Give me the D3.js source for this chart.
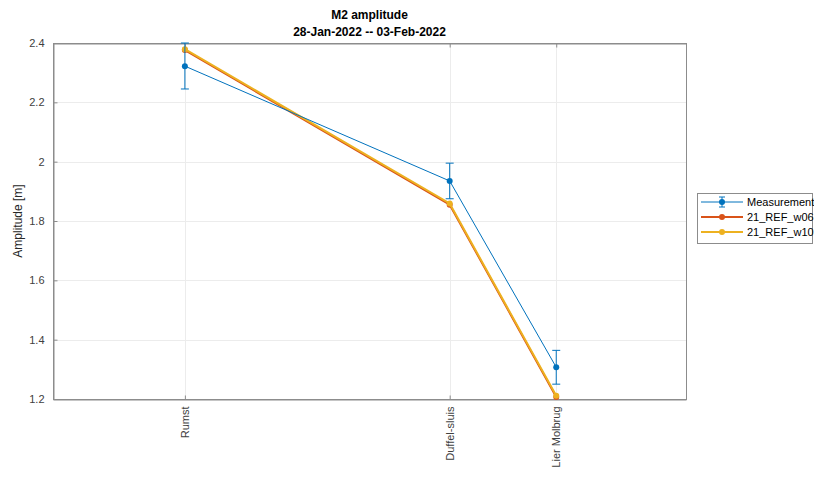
<!DOCTYPE html>
<html>
<head>
<meta charset="utf-8">
<script src="https://cdn.jsdelivr.net/npm/d3@7"></script>
<style>
  body { margin: 0; background: #fff; }
  svg { display: block; font-family: "Liberation Sans", Arial, sans-serif; }
</style>
</head>
<body>
<svg id="chart" width="814" height="479"></svg>
<script>
// Stations along the river and their position along the x axis (km)
const stations = ["Rumst", "Duffel-sluis", "Lier Molbrug"];
const stationKm = [6.25, 18.8, 23.85];
const xDomain = [0, 30];

// M2 amplitude [m]
const measured = [2.322, 1.935, 1.307];
const measuredLow = [2.245, 1.875, 1.25];
const measuredHigh = [2.40, 1.995, 1.364];
const refW06 = [2.376, 1.855, 1.207];
const refW10 = [2.379, 1.859, 1.211];

const yTicks = [1.2, 1.4, 1.6, 1.8, 2.0, 2.2, 2.4];
const seriesNames = ["Measurement", "21_REF_w06", "21_REF_w10"];
const seriesColors = ["#0072BD", "#D95319", "#EDB120"];

const svg = d3.select("#chart");
const m = { left: 53, right: 686, top: 43, bottom: 399 };

const x = d3.scaleLinear().domain(xDomain).range([m.left, m.right]);
const y = d3.scaleLinear().domain([1.2, 2.4]).range([m.bottom, m.top]);

// grid
const grid = svg.append("g").attr("stroke", "#ececec").attr("stroke-width", 1);
yTicks.forEach(t => grid.append("line")
  .attr("x1", m.left).attr("x2", m.right)
  .attr("y1", Math.round(y(t)) + 0.5).attr("y2", Math.round(y(t)) + 0.5));
stationKm.forEach(k => grid.append("line")
  .attr("y1", m.top).attr("y2", m.bottom)
  .attr("x1", Math.round(x(k)) + 0.5).attr("x2", Math.round(x(k)) + 0.5));

// axes
const axisColor = "#8c8c8c";
const yAxis = d3.axisLeft(y).tickValues(yTicks).tickSizeInner(-4).tickSizeOuter(0).tickPadding(9)
  .tickFormat(d => d3.format("")(+d.toFixed(1)));
const gy = svg.append("g").attr("transform", `translate(${m.left + 0.5},0)`).call(yAxis);
gy.selectAll("text").attr("font-size", 11).attr("fill", "#404040");

const xAxis = d3.axisBottom(x).tickValues(stationKm).tickSizeInner(-4).tickSizeOuter(0).tickPadding(6)
  .tickFormat((d, i) => stations[i]);
const gx = svg.append("g").attr("transform", `translate(0,${m.bottom + 0.5})`).call(xAxis);
gx.selectAll("text").attr("font-size", 11).attr("fill", "#404040")
  .attr("transform", "rotate(-90)").attr("text-anchor", "end")
  .attr("dy", "0.32em").attr("x", -7).attr("y", 0);

// top ticks
const xTop = d3.axisTop(x).tickValues(stationKm).tickSizeInner(-4).tickSizeOuter(0).tickFormat("");
const gt = svg.append("g").attr("transform", `translate(0,${m.top + 0.5})`).call(xTop);
[gx, gy, gt].forEach(g => g.selectAll("path,line").attr("stroke", axisColor));

// box
svg.append("rect").attr("x", m.left + 0.5).attr("y", m.top + 0.5)
  .attr("width", m.right - m.left).attr("height", m.bottom - m.top)
  .attr("fill", "none").attr("stroke", axisColor);

const line = d3.line().x((d, i) => x(stationKm[i])).y(d => y(d));

// model runs
[[refW06, 1], [refW10, 2]].forEach(([vals, ci]) => {
  svg.append("path").datum(vals).attr("d", line)
    .attr("fill", "none").attr("stroke", seriesColors[ci]).attr("stroke-width", 2);
  svg.selectAll(null).data(vals).enter().append("circle")
    .attr("cx", (d, i) => x(stationKm[i])).attr("cy", d => y(d))
    .attr("r", 3).attr("fill", seriesColors[ci]);
});

// measurements with error bars
const mc = seriesColors[0];
svg.append("path").datum(measured).attr("d", line)
  .attr("fill", "none").attr("stroke", mc).attr("stroke-width", 1);
measured.forEach((v, i) => {
  const cx = x(stationKm[i]);
  svg.append("line").attr("x1", cx).attr("x2", cx)
    .attr("y1", y(measuredLow[i])).attr("y2", y(measuredHigh[i]))
    .attr("stroke", mc).attr("stroke-width", 1);
  [measuredLow[i], measuredHigh[i]].forEach(e => svg.append("line")
    .attr("x1", cx - 4).attr("x2", cx + 4).attr("y1", y(e)).attr("y2", y(e))
    .attr("stroke", mc).attr("stroke-width", 1));
  svg.append("circle").attr("cx", cx).attr("cy", y(v)).attr("r", 3).attr("fill", mc);
});

// title
const cxTitle = (m.left + m.right) / 2;
svg.append("text").attr("x", cxTitle).attr("y", 19).attr("text-anchor", "middle")
  .attr("font-size", 12).attr("font-weight", "bold").attr("fill", "#000").text("M2 amplitude");
svg.append("text").attr("x", cxTitle).attr("y", 36).attr("text-anchor", "middle")
  .attr("font-size", 12).attr("font-weight", "bold").attr("fill", "#000").text("28-Jan-2022 -- 03-Feb-2022");

// y label
svg.append("text").attr("transform", `translate(22,${(m.top + m.bottom) / 2}) rotate(-90)`)
  .attr("text-anchor", "middle").attr("font-size", 12).attr("fill", "#262626").text("Amplitude [m]");

// legend
const lg = svg.append("g").attr("transform", "translate(697,193)");
lg.append("rect").attr("x", 0.5).attr("y", 0.5).attr("width", 115).attr("height", 50)
  .attr("fill", "#fff").attr("stroke", axisColor);
seriesNames.forEach((name, i) => {
  const yy = 9 + i * 15;
  lg.append("line").attr("x1", 4).attr("x2", 46).attr("y1", yy).attr("y2", yy)
    .attr("stroke", seriesColors[i]).attr("stroke-width", i === 0 ? 1 : 2);
  lg.append("circle").attr("cx", 25).attr("cy", yy).attr("r", 3).attr("fill", seriesColors[i]);
  if (i === 0) {
    lg.append("line").attr("x1", 25).attr("x2", 25).attr("y1", yy - 5).attr("y2", yy + 5).attr("stroke", seriesColors[i]);
    [yy - 5, yy + 5].forEach(e => lg.append("line").attr("x1", 22).attr("x2", 28).attr("y1", e).attr("y2", e).attr("stroke", seriesColors[i]));
  }
  lg.append("text").attr("x", 50).attr("y", yy).attr("dy", "0.35em")
    .attr("font-size", 11).attr("fill", "#000").text(name);
});
</script>
</body>
</html>
